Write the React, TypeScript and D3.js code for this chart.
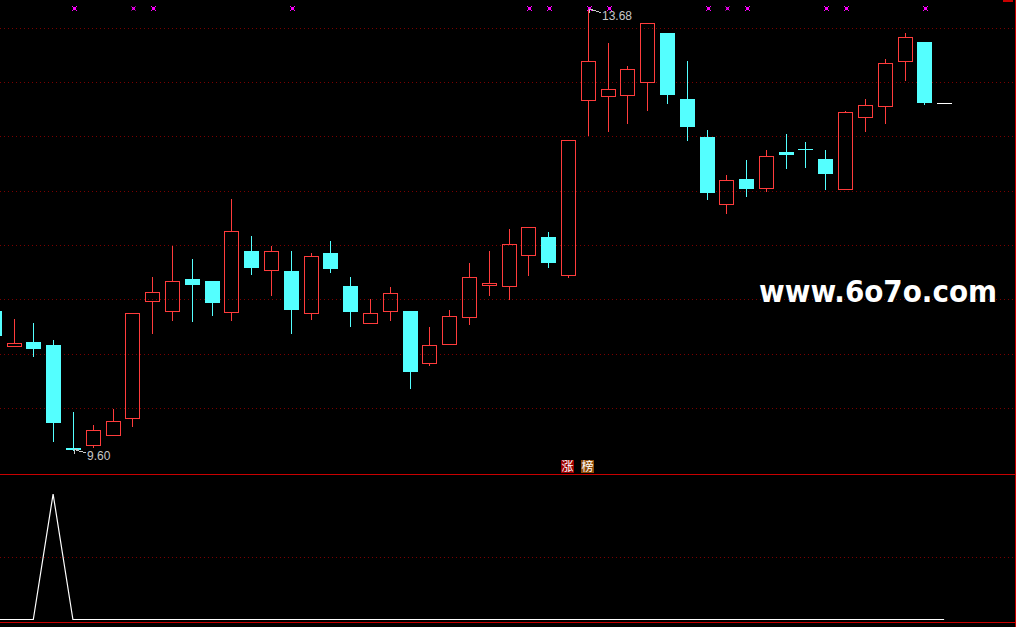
import * as d3 from 'd3';

// daily bars, oldest first (first bar is cut off at the left edge)
const opens = [10.88, 10.56, 10.60, 10.57, 9.61, 9.64, 9.73, 9.89, 10.98, 10.88, 11.18, 11.16, 10.87, 11.44, 11.26, 11.25, 10.86, 11.42, 11.11, 10.77, 10.88, 10.88, 10.40, 10.58, 10.83, 11.12, 11.11, 11.40, 11.57, 11.22, 12.84, 12.87, 12.88, 13.00, 13.46, 12.85, 12.49, 11.87, 12.11, 12.02, 12.36, 12.38, 12.29, 12.01, 12.68, 12.78, 13.20, 13.37, 12.81];
const highs = [10.88, 10.82, 10.78, 10.62, 9.96, 9.84, 9.98, 10.86, 11.21, 11.49, 11.37, 11.16, 11.93, 11.59, 11.49, 11.45, 11.43, 11.54, 11.21, 11.00, 11.11, 10.88, 10.74, 10.90, 11.34, 11.45, 11.65, 11.66, 11.62, 12.47, 13.68, 13.37, 13.16, 13.55, 13.46, 13.21, 12.57, 12.15, 12.29, 12.38, 12.53, 12.46, 12.38, 12.74, 12.86, 13.23, 13.47, 13.37, 12.81];
const lows = [10.65, 10.56, 10.47, 9.68, 9.60, 9.62, 9.73, 9.82, 10.68, 10.80, 10.79, 10.85, 10.80, 11.23, 11.03, 10.68, 10.81, 11.24, 10.74, 10.77, 10.80, 10.17, 10.38, 10.58, 10.76, 11.03, 10.99, 11.22, 11.29, 11.20, 12.51, 12.55, 12.62, 12.74, 12.81, 12.47, 11.92, 11.79, 11.95, 11.99, 12.21, 12.22, 12.01, 12.01, 12.55, 12.62, 13.02, 12.80, 12.81];
const closes = [10.65, 10.59, 10.53, 9.85, 9.60, 9.78, 9.86, 10.86, 11.06, 11.16, 11.12, 10.96, 11.62, 11.28, 11.44, 10.89, 11.39, 11.27, 10.87, 10.86, 11.05, 10.32, 10.57, 10.84, 11.20, 11.14, 11.50, 11.66, 11.33, 12.47, 13.20, 12.94, 13.12, 13.55, 12.88, 12.59, 11.98, 12.10, 12.01, 12.32, 12.33, 12.38, 12.15, 12.73, 12.79, 13.18, 13.42, 12.81, 12.81];

// bars that carry a signal mark at the top (small = fainter mark)
const signalBars = [4, 7, 8, 15, 27, 28, 30, 31, 36, 37, 38, 42, 43, 47];
const smallSignals = [7, 37];

// badges under the main panel
const badges = [
  { bar: 29, text: '涨', bg: '#9c0000' },
  { bar: 30, text: '榜', bg: '#8c4a08' },
];

// lower indicator
const subValues = [0, 0, 0, 1, 0, 0, 0, 0, 0, 0, 0, 0, 0, 0, 0, 0, 0, 0, 0, 0, 0, 0, 0, 0, 0, 0, 0, 0, 0, 0, 0, 0, 0, 0, 0, 0, 0, 0, 0, 0, 0, 0, 0, 0, 0, 0, 0, 0, 0];

const gridPrices = [13.50, 13.00, 12.50, 11.99, 11.49, 10.99, 10.48, 9.98];
const subGrid = [0.5];

const W = 1016;
const H = 627;
const RED = '#ff3c3c';
const CYAN = '#54ffff';
const BORDER = '#c80000';
const GRID = '#7a0000';

export default function App() {
  const x = d3.scaleLinear().domain([0, opens.length - 1]).range([-6.3, 944.1]);
  const y = d3.scaleLinear().domain([9.60, 13.68]).range([449.5, 9]);
  const sy = d3.scaleLinear().domain([0, 1]).range([619.5, 494]);

  const px = (v: number) => Math.round(v) + 0.5;

  const hiIdx = d3.maxIndex(highs);
  const loIdx = d3.minIndex(lows);

  const subLine = d3.line<number>()
    .x((_, i) => x(i))
    .y(d => sy(d));

  const candles = opens.map((o, i) => {
    const c = closes[i], h = highs[i], l = lows[i];
    const R = Math.round(x(i));
    const cx = R + 0.5;
    if (h === l) {
      return <line key={i} x1={R - 7} x2={R + 8} y1={px(y(c))} y2={px(y(c))} stroke="#ffffff" />;
    }
    if (c > o) {
      const top = px(y(c)), bot = px(y(o));
      return (
        <g key={i} stroke={RED} fill="none">
          {px(y(h)) < top && <line x1={cx} x2={cx} y1={px(y(h))} y2={top} />}
          {px(y(l)) > bot && <line x1={cx} x2={cx} y1={bot} y2={px(y(l))} />}
          <rect x={R - 6.5} y={top} width={14} height={Math.max(bot - top, 1)} />
        </g>
      );
    }
    if (c === o) {
      return (
        <g key={i} stroke={CYAN}>
          <line x1={cx} x2={cx} y1={px(y(h))} y2={px(y(l))} />
          <line x1={R - 7} x2={R + 8} y1={px(y(c))} y2={px(y(c))} />
        </g>
      );
    }
    const top = Math.round(y(o)), bot = Math.round(y(c));
    return (
      <g key={i}>
        <line x1={cx} x2={cx} y1={px(y(h))} y2={px(y(l))} stroke={CYAN} />
        <rect x={R - 7} y={top} width={15} height={Math.max(bot - top, 2)} fill={CYAN} />
      </g>
    );
  });

  const extremeLabel = (idx: number, val: number, key: string) => {
    const tx = Math.round(x(idx)) + 1;
    const ty = y(val);
    return (
      <g key={key}>
        <g stroke="#c8c8c8" strokeWidth={1} fill="none">
          <line x1={tx} y1={ty} x2={tx + 12} y2={ty + 3.5} />
          <line x1={tx} y1={ty} x2={tx + 4} y2={ty} />
          <line x1={tx} y1={ty} x2={tx + 1} y2={ty + 4} />
        </g>
        <text x={tx + 13} y={ty + 10.5} fill="#c8c8c8" fontSize={12}
          fontFamily="'Liberation Sans', Arial, sans-serif">{val.toFixed(2)}</text>
      </g>
    );
  };

  return (
    <div style={{ position: 'absolute', left: 0, top: 0, width: W, height: H, background: '#000' }}>
      <svg width={W} height={H} style={{ display: 'block' }} shapeRendering="crispEdges">
        <rect width={W} height={H} fill="#000" />

        {gridPrices.map(p => (
          <line key={p} x1={0} x2={1014} y1={px(y(p))} y2={px(y(p))}
            stroke={GRID} strokeDasharray="1 3" />
        ))}
        {subGrid.map(v => (
          <line key={v} x1={0} x2={1014} y1={px(sy(v))} y2={px(sy(v))}
            stroke={GRID} strokeDasharray="1 3" />
        ))}

        <text x={759} y={302} fill="#ffffff" fontSize={30} fontWeight="bold"
          fontFamily="'DejaVu Sans', sans-serif" textLength={238} lengthAdjust="spacingAndGlyphs"
          shapeRendering="auto">www.6o7o.com</text>

        {candles}

        {signalBars.map(b => {
          const mx = Math.round(x(b)) + 1.5;
          const r = smallSignals.includes(b) ? 2 : 2.5;
          return (
            <g key={b} stroke="#ff00ff" fill="#ff00ff" shapeRendering="auto">
              <line x1={mx - r} y1={8.5 - r} x2={mx + r} y2={8.5 + r} strokeWidth={1} />
              <line x1={mx + r} y1={8.5 - r} x2={mx - r} y2={8.5 + r} strokeWidth={1} />
              <rect x={mx - r / 1.7} y={8.5 - r / 1.7} width={r * 1.2} height={r * 1.2} stroke="none" />
            </g>
          );
        })}

        {extremeLabel(hiIdx, highs[hiIdx], 'hi')}
        {extremeLabel(loIdx, lows[loIdx], 'lo')}

        {badges.map(b => {
          const bx = Math.round(x(b.bar));
          return (
            <g key={b.bar}>
              <rect x={bx - 7} y={460} width={13} height={13} fill={b.bg} />
              <text x={bx - 0.5} y={471} textAnchor="middle" fill="#ffffff" fontSize={12}
                fontFamily="'Noto Sans CJK SC', sans-serif" shapeRendering="auto">{b.text}</text>
            </g>
          );
        })}

        <path d={subLine(subValues) ?? ''} fill="none" stroke="#ffffff" strokeWidth={1.2}
          shapeRendering="auto" />

        <line x1={0} x2={1016} y1={474.5} y2={474.5} stroke={BORDER} />
        <line x1={0} x2={1016} y1={622.5} y2={622.5} stroke={BORDER} />
        <line x1={1015.5} x2={1015.5} y1={0} y2={H} stroke={BORDER} />
        <rect x={1003} y={0} width={10} height={2} fill={BORDER} />
      </svg>
    </div>
  );
}
